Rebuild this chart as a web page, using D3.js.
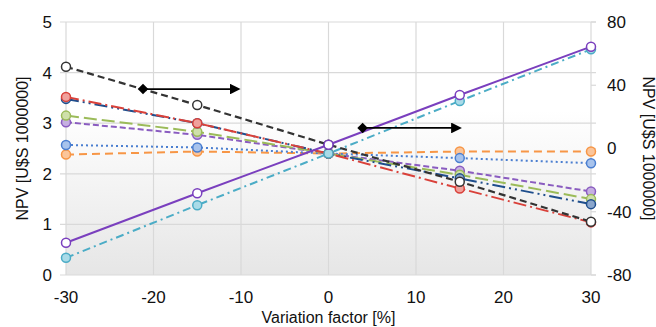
<!DOCTYPE html>
<html>
<head>
<meta charset="utf-8">
<script src="https://cdn.jsdelivr.net/npm/d3@7"></script>
<style>
  body { margin: 0; background: #fff; }
  text { font-family: "Liberation Sans", Arial, sans-serif; fill: #111; }
</style>
</head>
<body>
<div id="chart"></div>
<script>
// Variation factor (%) for every series
const variation = [-30, -15, 0, 15, 30];

// Left-axis series, NPV [U$S 1000000]
const seriesRed = [3.52, 3.00, 2.40, 1.71, 1.04];
const seriesNavy = [3.48, 3.00, 2.40, 1.91, 1.40];
const seriesGreen = [3.15, 2.83, 2.40, 1.98, 1.50];
const seriesPurpleDash = [3.02, 2.77, 2.40, 2.06, 1.65];
const seriesBlueDot = [2.57, 2.52, 2.40, 2.31, 2.21];
const seriesOrange = [2.38, 2.44, 2.40, 2.44, 2.44];
const seriesCyan = [0.34, 1.38, 2.40, 3.44, 4.46];

// Right-axis series, NPV [U$S 1000000]
const seriesBlack = [51.7, 27.5, 2.4, -21.0, -46.3];
const seriesPurple = [-59.6, -28.3, 2.4, 33.8, 64.4];

// Axis ticks
const xTicks = [-30, -20, -10, 0, 10, 20, 30];
const leftTicks = [0, 1, 2, 3, 4, 5];
const rightTicks = [-80, -40, 0, 40, 80];

// Annotation arrows: [x start, x end, right-axis value]
const arrowBlack = [-21.2, -10.3, 37.6];
const arrowPurple = [3.9, 15.0, 13.0];

const series = [
  { values: seriesOrange, axis: 'left', color: '#f79646', fill: '#fbc59a', dash: '8,5', width: 2 },
  { values: seriesBlueDot, axis: 'left', color: '#4a7ed0', fill: '#a8c3ec', dash: '2,3', width: 2 },
  { values: seriesPurpleDash, axis: 'left', color: '#8a5cc0', fill: '#c6b0e2', dash: '6,3', width: 2 },
  { values: seriesGreen, axis: 'left', color: '#9bbb59', fill: '#cfe0aa', dash: '13,5', width: 2 },
  { values: seriesNavy, axis: 'left', color: '#1f4e8c', fill: '#8aa6cc', dash: '13,4,2,4,2,4', width: 2 },
  { values: seriesRed, axis: 'left', color: '#d9413a', fill: '#f0a19c', dash: '13,4,2,4', width: 2 },
  { values: seriesCyan, axis: 'left', color: '#4bacc6', fill: '#a9dbe8', dash: '8,4,2,4', width: 2 },
  { values: seriesBlack, axis: 'right', color: '#333333', fill: '#ffffff', dash: '7,4', width: 2.2 },
  { values: seriesPurple, axis: 'right', color: '#7a3fbe', fill: '#ffffff', dash: null, width: 2 }
];

const width = 656, height = 327;
const margin = { top: 22, right: 65, bottom: 52, left: 66 };
const innerW = width - margin.left - margin.right;
const innerH = height - margin.top - margin.bottom;

const svg = d3.select('#chart').append('svg')
  .attr('width', width)
  .attr('height', height);

const defs = svg.append('defs');
const grad = defs.append('linearGradient')
  .attr('id', 'bg-grad')
  .attr('x1', 0).attr('y1', 0).attr('x2', 0).attr('y2', 1);
grad.append('stop').attr('offset', '0%').attr('stop-color', '#ffffff');
grad.append('stop').attr('offset', '35%').attr('stop-color', '#ffffff');
grad.append('stop').attr('offset', '100%').attr('stop-color', '#e6e6e6');

defs.append('marker')
  .attr('id', 'arrow-head')
  .attr('viewBox', '0 0 10 10')
  .attr('refX', 8).attr('refY', 5)
  .attr('markerWidth', 6).attr('markerHeight', 6)
  .attr('orient', 'auto')
  .append('path')
  .attr('d', 'M0,0 L10,5 L0,10 Z')
  .attr('fill', '#000');

const g = svg.append('g')
  .attr('transform', `translate(${margin.left},${margin.top})`);

// Scales
const x = d3.scaleLinear().domain([-30, 30]).range([0, innerW]);
const yLeft = d3.scaleLinear().domain([0, 5]).range([innerH, 0]);
const yRight = d3.scaleLinear().domain([-80, 80]).range([innerH, 0]);

// Plot background
g.append('rect')
  .attr('width', innerW)
  .attr('height', innerH)
  .attr('fill', 'url(#bg-grad)');

// Grid lines (follow the left axis)
g.append('g').selectAll('line')
  .data(leftTicks)
  .join('line')
  .attr('x1', -6).attr('x2', innerW + 5)
  .attr('y1', d => yLeft(d)).attr('y2', d => yLeft(d))
  .attr('stroke', '#d9d9d9')
  .attr('stroke-width', 1.2);

g.append('g').selectAll('line')
  .data(xTicks)
  .join('line')
  .attr('x1', d => x(d)).attr('x2', d => x(d))
  .attr('y1', 0).attr('y2', innerH)
  .attr('stroke', '#d9d9d9')
  .attr('stroke-width', 1.2);

// Right axis tick stubs
g.append('g').selectAll('line')
  .data(rightTicks)
  .join('line')
  .attr('x1', innerW).attr('x2', innerW + 5)
  .attr('y1', d => yRight(d)).attr('y2', d => yRight(d))
  .attr('stroke', '#d9d9d9')
  .attr('stroke-width', 1.2);

// Tick labels
g.append('g').selectAll('text')
  .data(leftTicks)
  .join('text')
  .attr('x', -14)
  .attr('y', d => yLeft(d))
  .attr('dy', '0.35em')
  .attr('text-anchor', 'end')
  .style('font-size', '17px')
  .text(d => d);

g.append('g').selectAll('text')
  .data(rightTicks)
  .join('text')
  .attr('x', innerW + 16)
  .attr('y', d => yRight(d))
  .attr('dy', '0.35em')
  .attr('text-anchor', 'start')
  .style('font-size', '17px')
  .text(d => d);

g.append('g').selectAll('text')
  .data(xTicks)
  .join('text')
  .attr('x', d => x(d))
  .attr('y', innerH + 28)
  .attr('text-anchor', 'middle')
  .style('font-size', '17px')
  .text(d => d);

// Axis titles
svg.append('text')
  .attr('transform', `translate(28,${margin.top + innerH / 2}) rotate(-90)`)
  .attr('text-anchor', 'middle')
  .style('font-size', '16px')
  .text('NPV [U$S 1000000]');

svg.append('text')
  .attr('transform', `translate(643,${margin.top + innerH / 2}) rotate(90)`)
  .attr('text-anchor', 'middle')
  .style('font-size', '16px')
  .text('NPV [U$S 1000000]');

svg.append('text')
  .attr('x', margin.left + x(0))
  .attr('y', height - 4)
  .attr('text-anchor', 'middle')
  .style('font-size', '16px')
  .text('Variation factor [%]');

// Series lines and markers
series.forEach(s => {
  const yScale = s.axis === 'left' ? yLeft : yRight;
  const pts = variation.map((v, i) => [v, s.values[i]]);
  const line = d3.line().x(d => x(d[0])).y(d => yScale(d[1]));

  g.append('path')
    .datum(pts)
    .attr('d', line)
    .attr('fill', 'none')
    .attr('stroke', s.color)
    .attr('stroke-width', s.width)
    .attr('stroke-dasharray', s.dash);

  g.append('g').selectAll('circle')
    .data(pts)
    .join('circle')
    .attr('cx', d => x(d[0]))
    .attr('cy', d => yScale(d[1]))
    .attr('r', 4.5)
    .attr('fill', s.fill)
    .attr('stroke', s.color)
    .attr('stroke-width', 1.5);
});

// Annotation arrows pointing to the right axis
[arrowBlack, arrowPurple].forEach(a => {
  const ax1 = x(a[0]), ax2 = x(a[1]), ay = yRight(a[2]);
  g.append('line')
    .attr('x1', ax1).attr('x2', ax2)
    .attr('y1', ay).attr('y2', ay)
    .attr('stroke', '#000')
    .attr('stroke-width', 1.8)
    .attr('marker-end', 'url(#arrow-head)');
  // square turned 45 degrees gives an even diamond
  g.append('path')
    .attr('d', d3.symbol().type(d3.symbolSquare).size(56)())
    .attr('transform', `translate(${ax1},${ay}) rotate(45)`)
    .attr('fill', '#000');
});
</script>
</body>
</html>
